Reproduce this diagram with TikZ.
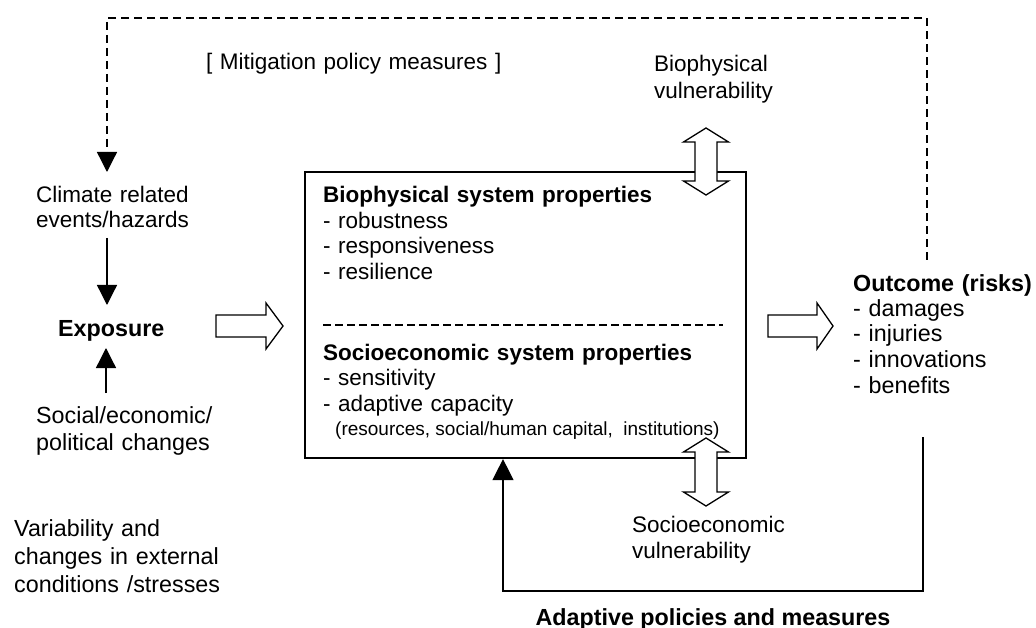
\documentclass[tikz,border=0pt]{standalone}
\usepackage{fontspec}
\setmainfont{Liberation Sans}
\usetikzlibrary{arrows.meta,calc}
\newcommand\txtsize[1]{\fontsize{23.3}{#1}\selectfont}
\newcommand\boxsize[1]{\fontsize{22.5}{#1}\selectfont}
\begin{document}
\begin{tikzpicture}[x=1pt,y=-1pt,
  txt/.style={inner sep=0pt, anchor=base west, align=left, text width=430pt, font=\txtsize{#1}},
  txt/.default=25.5pt,
  stxt/.style={inner sep=0pt, anchor=base west, align=left, text width=430pt, font=\boxsize{#1}},
  stxt/.default=25.5pt,
  thin/.style={line width=1.3pt},
  flow/.style={thin, -{Triangle[length=20pt,width=20pt]}},
  mitig/.style={flow, dash pattern=on 8pt off 5pt},
  adapt/.style={thin, -{Triangle[length=21pt,width=21pt]}},
  hollow/.style={thin, draw=black, fill=white, line join=miter},
  sysbox/.style={draw, line width=2.2pt, minimum width=441pt, minimum height=286pt, inner sep=0pt}]
\useasboundingbox (0,0) rectangle (1036,628);

% left column
\node[stxt=25pt] (clim) at (36,203) {Climate related\\events/hazards};
\node[inner sep=0pt, anchor=base west, font=\txtsize{25pt}\bfseries] (expo) at (58,337) {Exposure};
\node[txt=27pt] (soc) at (36,423) {Social/economic/\\political changes};
\node[txt=28pt] (var) at (14,536) {Variability and\\changes in external\\conditions /stresses};

% top labels
\node[stxt] (mit) at (206,70) {[ Mitigation policy measures ]};
\node[stxt=27pt] (biov) at (654,72) {Biophysical\\vulnerability};

% central system box
\node[sysbox] (sys) at (525.5,315) {};
\node[stxt] (bio) at (323,203) {\textbf{Biophysical system properties}\\- robustness\\- responsiveness\\- resilience};
\coordinate (sepL) at (323,325);
\coordinate (sepR) at (723,325);
\draw[thin, dash pattern=on 7.5pt off 4.5pt] (sepL) -- (sepR);
\node[stxt] (soce) at (323,360) {\textbf{Socioeconomic system properties}\\- sensitivity\\- adaptive capacity};
\node[inner sep=0pt, anchor=base west, font=\fontsize{19}{22}\selectfont] (res) at (335,435) {(resources, social/human capital,\ \ institutions)};

% outcome
\node[txt] (outc) at (853,291) {\textbf{Outcome (risks)}\\- damages\\- injuries\\- innovations\\- benefits};

% bottom labels
\node[stxt=26pt] (socv) at (632,532) {Socioeconomic\\vulnerability};
\node[inner sep=0pt, anchor=base, font=\txtsize{25pt}\bfseries] (adp) at (713,625) {Adaptive policies and measures};

% connector end points
\coordinate (climout) at (107,238);
\coordinate (expoin1) at (107,305);
\coordinate (expoin2) at (106,348);
\coordinate (socout) at (106,393);
\coordinate (outtop) at (927,260);
\coordinate (mtop) at (927,18);
\coordinate (climin) at (107,172);
\coordinate (fbstart) at (923,437);
\coordinate (fbcorner) at (503,591);

\draw[flow] (climout) -- (expoin1);
\draw[flow] (socout) -- (expoin2);
\draw[mitig] (outtop) -- (mtop) -| (climin);
\draw[adapt] (fbstart) |- (fbcorner) -- (fbcorner |- sys.south);

% hollow block arrows
\coordinate (ea) at (216,326);
\draw[hollow] (ea) ++(0,-11) -- ++(50,0) -- ++(0,-12) -- ++(17,23) -- ++(-17,23) -- ++(0,-12) -- ++(-50,0) -- cycle;
\coordinate (oa) at (768,326);
\draw[hollow] (oa) ++(0,-11) -- ++(49,0) -- ++(0,-12) -- ++(16,23) -- ++(-16,23) -- ++(0,-12) -- ++(-49,0) -- cycle;

% vulnerability double arrows across the box edges
\coordinate (bva) at (706,128);
\draw[hollow] (bva) -- ++(22.5,14) -- ++(-11.5,0) -- ++(0,39) -- ++(11.5,0) -- ++(-22.5,14) -- ++(-22.5,-14) -- ++(11.5,0) -- ++(0,-39) -- ++(-11.5,0) -- cycle;
\coordinate (sva) at (706,438);
\draw[hollow] (sva) -- ++(22.5,14) -- ++(-11.5,0) -- ++(0,40) -- ++(11.5,0) -- ++(-22.5,14) -- ++(-22.5,-14) -- ++(11.5,0) -- ++(0,-40) -- ++(-11.5,0) -- cycle;
\end{tikzpicture}
\end{document}
